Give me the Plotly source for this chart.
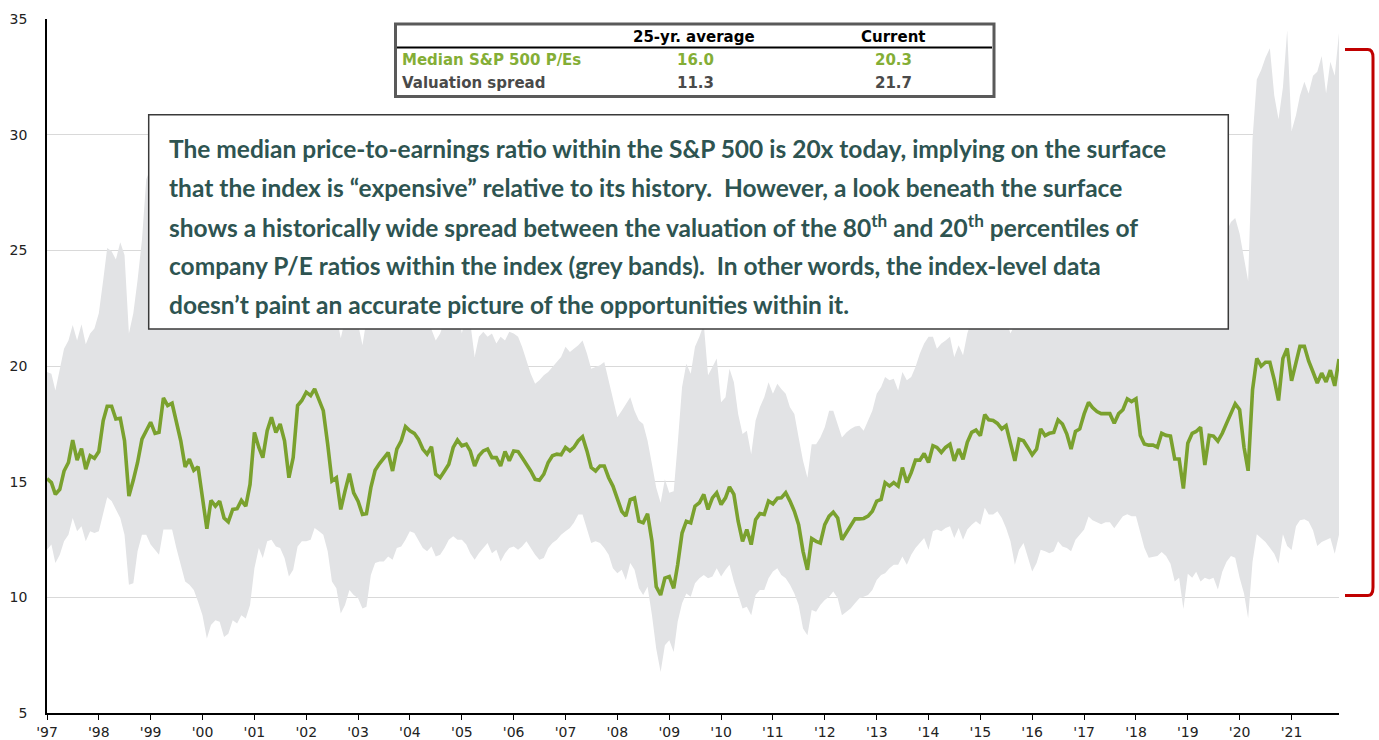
import plotly.graph_objects as go
import pandas as pd

# ---------------- data (monthly, Jan 1997 - Dec 2021) ----------------
median_pe = [
    15.13, 14.96, 14.45, 14.67, 15.46, 15.83, 16.8, 15.93, 16.43, 15.54, 16.12, 16.01,
    16.3, 17.64, 18.26, 18.26, 17.71, 17.74, 16.77, 14.38, 15.07, 15.83, 16.84, 17.2,
    17.57, 17.09, 17.13, 18.62, 18.29, 18.39, 17.57, 16.77, 15.64, 15.97, 15.49, 15.64,
    14.3, 12.97, 14.19, 13.94, 14.16, 13.43, 13.26, 13.8, 13.83, 14.19, 13.94, 14.88,
    17.13, 16.48, 16.04, 17.2, 17.78, 17.13, 17.49, 16.77, 15.17, 16.04, 18.29, 18.51,
    18.87, 18.72, 19.01, 18.58, 18.07, 16.62, 15.03, 15.17, 13.8, 14.59, 15.35, 14.52,
    14.16, 13.58, 13.61, 14.74, 15.49, 15.78, 16.04, 16.26, 15.46, 16.41, 16.77, 17.38,
    17.2, 17.09, 16.84, 16.41, 16.19, 16.51, 15.32, 15.17, 15.46, 15.75, 16.48, 16.8,
    16.55, 16.62, 16.33, 15.68, 16.12, 16.33, 16.41, 16.04, 16.04, 15.68, 16.3, 15.9,
    16.33, 16.3, 16.04, 15.75, 15.46, 15.1, 15.06, 15.32, 15.83, 16.12, 16.19, 16.16,
    16.48, 16.33, 16.48, 16.77, 16.94, 16.33, 15.61, 15.46, 15.68, 15.68, 15.17, 14.81,
    14.23, 13.72, 13.51, 14.23, 14.3, 13.29, 13.22, 13.61,
    12.42, 10.46, 10.1, 10.83, 10.9, 10.39, 11.41, 12.78, 13.29, 13.22, 13.94, 14.09,
    14.45, 13.8, 14.3, 14.52, 14.01, 14.3, 14.77, 14.45, 13.29, 12.42, 12.93, 12.28,
    13.36, 13.62, 13.58, 14.16, 14.04, 14.28, 14.3, 14.52, 14.16, 13.72, 13.14, 11.99,
    11.19, 12.54, 12.42, 12.35, 13.14, 13.51, 13.68, 13.43, 12.49, 12.78, 13.07, 13.39,
    13.39, 13.41, 13.51, 13.72,
    14.16, 14.23, 14.96, 14.81, 14.96, 14.81, 15.61, 14.96, 15.39, 15.93, 15.93, 16.22,
    15.83, 16.55, 16.48, 16.26, 16.48, 16.62, 15.9, 16.41, 15.97, 16.7, 17.13, 17.23,
    16.99, 17.9, 17.67, 17.64, 17.52, 17.28, 17.42, 16.62, 15.9, 16.84, 16.77, 16.48,
    16.16, 16.41, 17.28, 16.99, 17.09, 17.13, 17.67, 17.49, 17.06, 16.41, 17.17, 17.28,
    17.93, 18.43,
    18.2, 18.03, 17.94, 17.94, 17.94, 17.52, 17.94, 18.11, 18.58, 18.46, 18.58, 17.0,
    16.63, 16.58, 16.58, 16.49, 17.09, 17.0, 16.97, 15.98, 15.98, 14.7, 16.66, 17.09,
    17.17, 17.35, 15.72, 17.0, 16.97, 16.75, 17.09, 17.52, 17.94, 18.37, 18.11, 16.49,
    15.47, 18.97, 20.33, 19.99, 20.16, 20.16, 19.4, 18.51, 20.33, 20.76, 19.36, 20.08,
    20.85, 20.85, 20.22, 19.74, 19.26, 19.69, 19.31, 19.82, 19.14, 20.3,
]

pct80_pe = [
    19.74, 19.67, 18.94, 19.8, 20.75, 21.1, 21.77, 21.1, 21.8, 20.94, 21.4, 21.62,
    22.28, 23.72, 25.1, 24.96, 24.6, 25.35, 24.8, 21.4, 22.28, 23.72, 25.46, 28.07,
    28.5, 29.0, 28.0, 27.5, 28.0, 29.0, 28.5, 27.0, 26.0, 27.0, 28.0, 28.5,
    29.0, 28.0, 27.0, 26.0, 25.0, 24.0, 24.5, 25.0, 24.0, 23.5, 24.0, 25.0,
    25.0, 24.5, 24.0, 25.0, 25.5, 24.5, 24.0, 23.5, 22.5, 23.0, 24.0, 24.5,
    25.0, 25.5, 26.0, 25.0, 24.0, 23.0, 22.5, 22.2, 21.2, 22.0, 22.3, 22.0,
    21.8, 20.9, 22.0, 22.5, 23.0, 23.5, 24.0, 23.5, 23.0, 23.5, 24.0, 24.5,
    24.0, 23.5, 23.0, 22.5, 22.0, 21.5, 21.1, 21.4, 22.0, 22.5, 22.8, 22.5,
    21.4, 22.3, 21.9,
    20.39, 21.26, 21.48, 21.26, 21.4, 20.97, 21.26, 21.1, 21.48, 21.4, 21.26, 20.83,
    20.25, 19.67, 19.23, 19.38, 19.6, 19.74, 19.96, 20.17, 20.39, 20.83, 20.61, 20.75,
    20.9, 21.1, 20.54, 19.88, 19.96, 20.03, 20.17, 19.38, 18.51, 17.78, 18.07, 18.36,
    18.65, 18.07, 17.64, 17.49, 16.77, 15.75, 14.74, 14.09, 15.1, 14.52, 14.59, 16.62,
    19.09, 20.1, 19.67, 20.83, 21.26, 21.8, 19.6, 19.96, 20.32, 18.43, 18.65, 19.88,
    19.3, 17.93, 17.06, 17.2, 16.19, 17.64, 18.22, 18.65, 19.3, 18.8, 19.23, 19.01,
    18.8, 18.22, 17.93, 16.91, 15.9, 15.17, 16.62, 16.62, 16.91, 17.35, 18.07, 18.07,
    17.49, 16.91, 17.13, 17.28, 17.38, 17.42, 17.2, 17.64, 18.07,
    18.8, 19.09, 19.52, 19.38, 19.45, 18.94, 19.74, 19.38, 19.52, 19.96, 20.54, 20.97,
    21.26, 21.26, 20.75, 20.97, 21.1, 21.26, 20.39, 20.9, 20.46, 21.4,
    22.0, 22.5, 22.3, 23.0, 23.2, 23.0, 22.8, 22.5, 22.0, 21.4, 21.8, 22.3,
    22.6, 22.4, 22.2, 22.6, 23.2, 23.5, 23.4, 23.6, 24.0, 24.2, 24.0, 23.6,
    24.0, 24.3, 24.8, 25.3, 25.0, 24.8, 24.5, 24.6, 24.4, 24.2, 24.5, 24.8,
    25.2, 25.0, 25.3, 24.5, 24.0, 23.6, 23.5, 23.6, 24.0, 23.8, 23.5, 23.0,
    23.2, 22.5, 23.5, 24.0, 24.2, 24.5, 23.8, 24.5, 24.6, 24.5, 25.0, 25.8,
    26.23, 26.4, 25.72, 24.69, 23.67, 29.82, 32.38, 32.8, 33.32, 33.74, 31.69, 30.67,
    32.04, 34.51, 30.16, 30.84, 31.69, 32.29, 31.78, 32.55, 32.72, 33.4, 31.78, 33.15,
    32.55, 34.4,
]

pct20_pe = [
    12.06, 12.28, 11.48, 11.84, 12.42, 12.71, 13.43, 12.86, 13.07, 12.42, 12.86, 12.78,
    12.86, 13.58, 14.33, 14.16, 13.8, 13.43, 12.71, 10.54, 10.61, 11.99, 12.71, 12.71,
    12.28, 12.06, 11.84, 12.93, 12.93, 12.93, 12.13, 11.41, 10.68, 10.54, 10.32, 9.81,
    9.23, 8.22, 8.8, 9.01, 8.94, 8.29, 8.43, 9.01, 8.87, 9.23, 9.09, 9.67,
    11.26, 12.13, 11.7, 12.42, 12.49, 12.2, 12.13, 11.7, 10.9, 11.19, 12.2, 12.42,
    12.42, 12.49, 13.0, 12.86, 12.71, 11.99, 10.68, 10.39, 9.3, 9.67, 10.32, 10.1,
    9.96, 9.52, 9.59, 10.97, 11.48, 11.55, 11.55, 11.77, 11.62, 12.13, 12.2, 12.49,
    12.86, 12.78, 12.49, 12.13, 11.99, 12.2, 11.77, 11.84, 12.13, 12.49, 12.64, 12.49,
    12.49, 12.28, 11.91, 11.62, 11.91, 12.13, 12.35, 11.91, 12.06, 11.55, 11.91, 12.13,
    12.2, 12.06, 12.2, 12.42, 12.13, 11.84, 11.62, 11.7, 12.13, 12.35, 12.49, 12.71,
    12.86, 13.0, 13.22, 13.58, 13.58, 13.0, 12.35, 12.42, 12.35, 12.13, 11.84, 11.26,
    11.04, 11.19, 10.75, 11.48, 11.19, 10.39, 10.1, 10.46,
    9.23, 7.78, 6.77, 7.93, 8.14, 7.64, 8.94, 9.74, 10.17, 10.03, 10.61, 10.83,
    10.97, 10.83, 10.9, 11.26, 10.9, 11.19, 11.41, 10.68, 10.1, 9.52, 9.59, 9.23,
    10.1, 10.32, 10.32, 10.83, 11.12, 11.26, 10.97, 10.83, 10.54, 10.17, 9.67, 8.65,
    8.36, 9.45, 9.38, 9.67, 9.88, 10.03, 10.25, 9.96, 9.23, 9.38, 9.52, 9.74,
    9.96, 10.03, 10.1, 10.32,
    10.75, 10.97, 11.04, 11.26, 11.41, 11.41, 11.77, 11.41, 11.84, 12.13, 12.35, 12.57,
    12.06, 12.86, 12.93, 12.86, 13.0, 13.07, 12.57, 13.0, 12.49, 12.93, 13.14, 13.29,
    13.14, 13.87, 13.58, 13.58, 13.72, 13.43, 13.0, 12.42, 11.41, 12.06, 12.35, 11.77,
    11.12, 11.48, 12.06, 11.99, 11.91, 11.99, 12.42, 12.2, 12.13, 11.99, 12.49, 12.71,
    12.93, 13.49,
    13.33, 13.25, 13.16, 13.25, 13.25, 12.99, 13.25, 13.5, 13.59, 13.5, 13.5, 12.73,
    12.14, 11.71, 11.74, 11.79, 11.96, 11.79, 11.45, 10.68, 10.85, 9.5, 11.02, 10.85,
    11.11, 10.68, 10.85, 10.77, 10.85, 10.34, 11.11, 11.54, 11.79, 11.71, 10.85, 10.17,
    9.1, 11.54, 12.73, 12.56, 12.39, 12.14, 11.88, 11.45, 12.73, 12.22, 12.05, 13.07,
    13.33, 13.38, 13.28, 12.9, 12.22, 12.39, 12.48, 12.56, 11.88, 12.7,
]

tick_years = list(range(1997, 2022))
tick_labels = ["'%02d" % (y % 100) for y in tick_years]
y_ticks = [5, 10, 15, 20, 25, 30, 35]

table_header = ["25-yr. average", "Current"]
table_rows = [
    ["Median S&P 500 P/Es", "16.0", "20.3"],
    ["Valuation spread", "11.3", "21.7"],
]

text_lines = [
    "The median price-to-earnings ratio within the S&P 500 is 20x today, implying on the surface",
    "that the index is \u201cexpensive\u201d relative to its history.  However, a look beneath the surface",
    "shows a historically wide spread between the valuation of the 80<sup>th</sup> and 20<sup>th</sup> percentiles of",
    "company P/E ratios within the index (grey bands).  In other words, the index-level data",
    "doesn\u2019t paint an accurate picture of the opportunities within it.",
]

# ---------------- figure ----------------
dates_med = pd.date_range("1997-01-01", periods=len(median_pe), freq="MS")
dates_hi = pd.date_range("1997-01-01", periods=len(pct80_pe), freq="MS")
dates_lo = pd.date_range("1997-01-01", periods=len(pct20_pe), freq="MS")

W, H = 1379, 740
PL, PR, PT, PB = 47, 1339, 19, 713


def px(x):
    return (x - PL) / (PR - PL)


def py(y):
    return (PB - y) / (PB - PT)


GREEN = "#7AA12E"
BAND = "#E2E3E5"
TEAL = "#2E5451"
WIDE = "DejaVu Sans, Verdana, sans-serif"

fig = go.Figure()
fig.add_trace(go.Scatter(x=dates_lo, y=pct20_pe, mode="lines", line=dict(width=0, color=BAND),
                         hoverinfo="skip", showlegend=False))
fig.add_trace(go.Scatter(x=dates_hi, y=pct80_pe, mode="lines", line=dict(width=0, color=BAND),
                         fill="tonexty", fillcolor=BAND, hoverinfo="skip", showlegend=False))
fig.add_trace(go.Scatter(x=dates_med, y=median_pe, mode="lines",
                         line=dict(width=3.6, color=GREEN), showlegend=False))

shapes = []
# text box
shapes.append(dict(type="rect", xref="paper", yref="paper",
                   x0=px(148.7), x1=px(1228.3), y0=py(328.9), y1=py(114.7),
                   line=dict(color="#3A3A3A", width=1.5), fillcolor="white", layer="above"))
# table
shapes.append(dict(type="rect", xref="paper", yref="paper",
                   x0=px(395.5), x1=px(994), y0=py(96.5), y1=py(24),
                   line=dict(color="#5A5A5A", width=3), fillcolor="white", layer="above"))
shapes.append(dict(type="line", xref="paper", yref="paper",
                   x0=px(397), x1=px(992), y0=py(47.5), y1=py(47.5),
                   line=dict(color="#000000", width=2), layer="above"))
# red bracket
bx0, bx1 = px(1345), px(1373)
by0, by1 = py(49.5), py(595.5)
r = 0.004
path = (f"M {bx0},{by0} L {bx1 - r},{by0} Q {bx1},{by0} {bx1},{by0 - 0.012} "
        f"L {bx1},{by1 + 0.012} Q {bx1},{by1} {bx1 - r},{by1} L {bx0},{by1}")
shapes.append(dict(type="path", xref="paper", yref="paper", path=path,
                   line=dict(color="#C00000", width=3), layer="above"))

annotations = []
# table header
for txt, hx in zip(table_header, [694, 893]):
    annotations.append(dict(x=px(hx), y=py(37.5), xref="paper", yref="paper",
                            text="<b>" + txt + "</b>", showarrow=False,
                            xanchor="center", yanchor="middle",
                            font=dict(family=WIDE, size=15, color="#000000")))
row_colors = ["#84AE36", "#4A4A4A"]
row_y = [60, 83]
for row, col, ry in zip(table_rows, row_colors, row_y):
    annotations.append(dict(x=px(400), y=py(ry), xref="paper", yref="paper",
                            text="<b>" + row[0] + "</b>", showarrow=False,
                            xanchor="left", yanchor="middle",
                            font=dict(family=WIDE, size=15, color=col)))
    for val, vx in zip(row[1:], [695, 893]):
        annotations.append(dict(x=px(vx), y=py(ry), xref="paper", yref="paper",
                                text="<b>" + val + "</b>", showarrow=False,
                                xanchor="center", yanchor="middle",
                                font=dict(family=WIDE, size=15, color=col)))
# text box lines
line_y = [148, 187, 226, 265, 304]
for t, ly in zip(text_lines, line_y):
    annotations.append(dict(x=px(167), y=py(ly), xref="paper", yref="paper",
                            text="<b>" + t + "</b>", showarrow=False,
                            xanchor="left", yanchor="middle",
                            font=dict(family="Lato, Open Sans, sans-serif", size=24.5, color=TEAL)))

fig.update_layout(
    width=W, height=H,
    margin=dict(l=PL, r=W - PR, t=PT, b=H - PB, pad=0),
    paper_bgcolor="white", plot_bgcolor="white",
    shapes=shapes, annotations=annotations,
    showlegend=False,
    font=dict(family=WIDE, color="#222222"),
)
fig.update_xaxes(
    range=[dates_med[0], pd.Timestamp("2021-12-01")],
    tickmode="array",
    tickvals=[pd.Timestamp(f"{y}-01-01") for y in tick_years],
    ticktext=tick_labels,
    showgrid=False, zeroline=False,
    showline=True, linecolor="#000000", linewidth=1.5,
    ticks="outside", ticklen=5, tickcolor="#000000", tickwidth=1,
    tickfont=dict(family=WIDE, size=14, color="#222222"),
    automargin=False,
)
fig.update_yaxes(
    range=[5, 35],
    tickmode="array", tickvals=y_ticks, ticktext=[str(v) for v in y_ticks],
    showgrid=True, gridcolor="#D9D9D9", gridwidth=1,
    zeroline=False,
    showline=True, linecolor="#000000", linewidth=1.5,
    ticks="", ticklabelstandoff=15,
    tickfont=dict(family=WIDE, size=14, color="#222222"),
    automargin=False,
)

fig.write_html("out.html", config={"displayModeBar": False},
               post_script="document.body.style.margin='0';document.body.style.overflow='hidden';")
